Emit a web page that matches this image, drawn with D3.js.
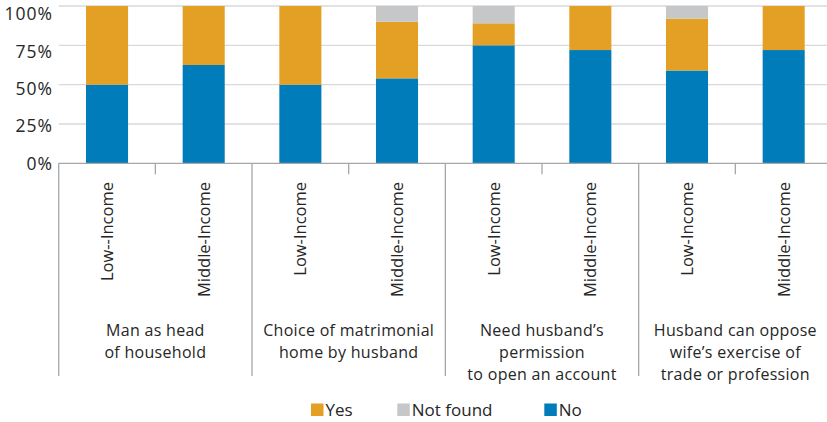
<!DOCTYPE html>
<html><head><meta charset="utf-8">
<script src="https://cdn.jsdelivr.net/npm/d3@7"></script>
<style>body{margin:0;background:#fff}svg{display:block}text{font-family:"Open Sans",sans-serif;fill:#262626}</style>
</head><body>
<svg id="c" width="827" height="422"></svg>
<script>
const groups = [
  ["Man as head","of household"],
  ["Choice of matrimonial","home by husband"],
  ["Need husband\u2019s","permission","to open an account"],
  ["Husband can oppose","wife\u2019s exercise of","trade or profession"]
];
const incomes = [["Low--Income","Middle-Income"],["Low-Income","Middle-Income"],["Low-Income","Middle-Income"],["Low-Income","Middle-Income"]];
const noVals  = [50, 62.5, 50, 54, 75, 72, 59, 72];
const yesVals = [50, 37.5, 50, 36, 14, 28, 33, 28];
const nfVals  = [0, 0, 0, 10, 11, 0, 8, 0];
const yTicks = [0, 25, 50, 75, 100];
const seriesKeys = ["No","Yes","Not found"];
const colors = {"Yes":"#E3A025","Not found":"#C6C7C9","No":"#007CBA"};
const legendOrder = ["Yes","Not found","No"];

const rows = [];
groups.forEach((g,gi)=>incomes[gi].forEach((inc,ii)=>{
  const i = gi*2+ii;
  rows.push({id:i, group:gi, label:inc, "No":noVals[i], "Yes":yesVals[i], "Not found":nfVals[i]});
}));

const svg = d3.select("#c");
const x0 = 58.7, x1 = 832, yTop = 6, yBot = 163.3;
const x = d3.scaleBand().domain(rows.map(d=>d.id)).range([x0,x1]).paddingInner(0.565).paddingOuter(0.2825);
const y = d3.scaleLinear().domain([0,100]).range([yBot,yTop]);
// tick label placement (labels sit slightly below their gridlines in the reference)
const yLab = d3.scaleLinear().domain([0,100]).range([163.5,13.8]);
const step = x.step();

// gridlines
svg.append("g").selectAll("line").data(yTicks.filter(t=>t>0)).join("line")
  .attr("x1",x0).attr("x2",827).attr("y1",d=>y(d)).attr("y2",d=>y(d))
  .attr("stroke","#d9d9d9").attr("stroke-width",1.3);

// y labels
svg.append("g").selectAll("text").data(yTicks).join("text")
  .attr("x",53).attr("y",d=>yLab(d)).attr("dy","0.36em").attr("text-anchor","end")
  .attr("font-size",17.5).attr("letter-spacing","1px").text(d=>d+"%");

// bars
const stack = d3.stack().keys(seriesKeys)(rows);
svg.append("g").selectAll("g").data(stack).join("g").attr("fill",s=>colors[s.key])
  .selectAll("rect").data(s=>s).join("rect")
  .attr("x",d=>x(d.data.id)).attr("width",x.bandwidth())
  .attr("y",d=>y(d[1])).attr("height",d=>y(d[0])-y(d[1]));

// axis line
svg.append("line").attr("x1",x0).attr("x2",827).attr("y1",yBot).attr("y2",yBot)
  .attr("stroke","#a6a6a6").attr("stroke-width",1.3);

// ticks: minor between pairs, major separators
const minor = [], major = [];
for(let i=0;i<=rows.length;i++){
  const xv = x0 + i*step;
  if(i%2===0) major.push(xv); else minor.push(xv);
}
svg.append("g").selectAll("line").data(minor).join("line")
  .attr("x1",d=>d).attr("x2",d=>d).attr("y1",yBot).attr("y2",yBot+11)
  .attr("stroke","#a6a6a6").attr("stroke-width",1.3);
svg.append("g").selectAll("line").data(major).join("line")
  .attr("x1",d=>d).attr("x2",d=>d).attr("y1",yBot).attr("y2",376)
  .attr("stroke","#a6a6a6").attr("stroke-width",1.3);

// income labels (rotated)
svg.append("g").selectAll("text").data(rows).join("text")
  .attr("transform",d=>`translate(${x(d.id)+x.bandwidth()/2+6},182) rotate(-90)`)
  .attr("text-anchor","end").attr("font-size",16.5).text(d=>d.label);

// group labels
groups.forEach((g,gi)=>{
  const cx = x0 + (gi*2+1)*step;
  const t = svg.append("g");
  g.forEach((line,li)=>{
    t.append("text").attr("x",cx).attr("y",335.5+li*22).attr("text-anchor","middle")
      .attr("font-size",16).attr("letter-spacing","0.3px").text(line);
  });
});

// legend
const legX = {"Yes":311,"Not found":397.3,"No":544.3};
const lg = svg.append("g").selectAll("g").data(legendOrder).join("g")
  .attr("transform",d=>`translate(${legX[d]},403.5)`);
lg.append("rect").attr("width",12.5).attr("height",12.5).attr("fill",d=>colors[d]);
lg.append("text").attr("x",14.5).attr("y",12.5).attr("font-size",17).text(d=>d);
</script>
</body></html>
